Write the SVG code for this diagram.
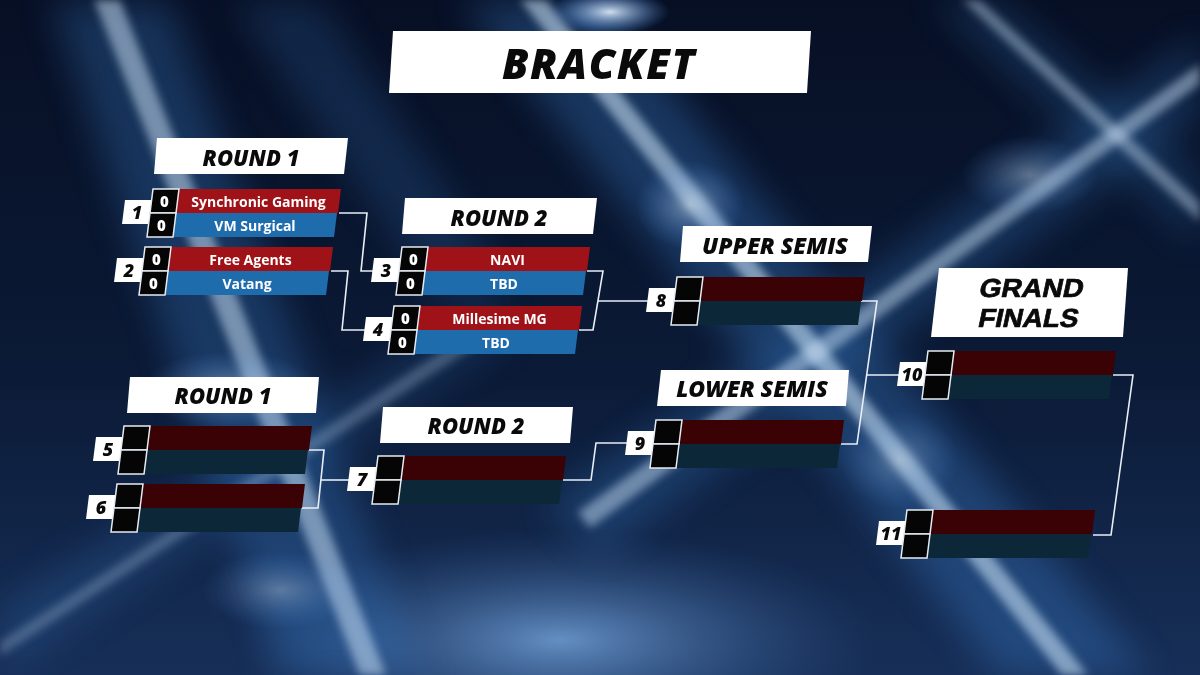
<svg xmlns="http://www.w3.org/2000/svg" xmlns:xlink="http://www.w3.org/1999/xlink" width="1200" height="675" viewBox="0 0 1200 675">
<style>
.hdr{fill:#ffffff}
.ht{font-family:"Open Sans","Liberation Sans",sans-serif;font-weight:800;font-style:italic;fill:#0a0a0a;text-anchor:middle}
.hg{font-family:"Liberation Sans",Arial,sans-serif;font-weight:700;font-size:26px;fill:#0a0a0a;text-anchor:middle;stroke:#0a0a0a;stroke-width:0.7}
.sc{fill:#050505;stroke:#e6ebf2;stroke-width:1.5}
.red{fill:#9e1218}.blue{fill:#1f6cad}.dred{fill:#3a0205}.dblue{fill:#0c2838}
.num{fill:#ffffff}
.nt{font-family:"Open Sans","Liberation Sans",sans-serif;font-weight:800;font-style:italic;font-size:18px;fill:#0a0a0a;text-anchor:middle}
.st{font-family:"Open Sans","Liberation Sans",sans-serif;font-weight:700;font-size:14px;fill:#ffffff;text-anchor:middle}
.sn{font-family:"Open Sans","Liberation Sans",sans-serif;font-weight:800;font-size:15px;fill:#ffffff;text-anchor:middle}
.conn{fill:none;stroke:#e8eef6;stroke-width:1.6}
</style>
<defs>
<linearGradient id="bg" x1="0" y1="0" x2="0" y2="1">
<stop offset="0" stop-color="#070f24"/>
<stop offset="0.55" stop-color="#0b1a36"/>
<stop offset="1" stop-color="#172f58"/>
</linearGradient>
<radialGradient id="glowB" cx="0.5" cy="0.5" r="0.5">
<stop offset="0" stop-color="#8fc4ff" stop-opacity="0.65"/>
<stop offset="1" stop-color="#3a6aa8" stop-opacity="0"/>
</radialGradient>
<radialGradient id="glowW" cx="0.5" cy="0.5" r="0.5">
<stop offset="0" stop-color="#e6f4ff" stop-opacity="0.9"/>
<stop offset="1" stop-color="#5aa0ff" stop-opacity="0"/>
</radialGradient>
<filter id="bw" x="-50%" y="-50%" width="200%" height="200%"><feGaussianBlur stdDeviation="18"/></filter>
<filter id="bn" x="-50%" y="-50%" width="200%" height="200%"><feGaussianBlur stdDeviation="4"/></filter>
<g id="cardI">
<polygon class="num" points="-28,11 -1,11 -4,35 -31,35"/>
<polygon class="dred" points="26,0 188,0 185,24 23,24"/>
<polygon class="dblue" points="23,24 184,24 181,48 20,48"/>
<polygon class="sc" points="0,0 26,0 23,24 -3,24"/>
<polygon class="sc" points="-3,24 23,24 20,48 -6,48"/>
</g>
<g id="cardA">
<polygon class="num" points="-28,11 -1,11 -4,35 -31,35"/>
<polygon class="red" points="26,0 188,0 185,24 23,24"/>
<polygon class="blue" points="23,24 184,24 181,48 20,48"/>
<polygon class="sc" points="0,0 26,0 23,24 -3,24"/>
<polygon class="sc" points="-3,24 23,24 20,48 -6,48"/>
</g>
</defs>

<g id="background">
<rect width="1200" height="675" fill="url(#bg)"/>
<ellipse cx="560" cy="640" rx="320" ry="110" fill="url(#glowB)"/>
<g filter="url(#bw)" opacity="0.6">
<polygon points="50,0 170,0 420,675 280,675" fill="#3f8ee0" opacity="0.45"/>
<polygon points="460,0 600,0 1150,675 1000,675" fill="#3f8ee0" opacity="0.5"/>
<polygon points="1200,35 1200,115 600,555 545,505" fill="#3f8ee0" opacity="0.4"/>
<polygon points="930,0 1000,0 1200,175 1200,245" fill="#3f8ee0" opacity="0.35"/>
<polygon points="0,605 0,675 515,335 485,305" fill="#3f8ee0" opacity="0.3"/>
<polygon points="230,0 320,0 510,290 440,300" fill="#3f8ee0" opacity="0.3"/>
</g>
<g filter="url(#bn)">
<polygon points="94,0 120,0 386,675 360,675" fill="#d6ecff" opacity="0.5"/>
<polygon points="520,0 546,0 1088,675 1062,675" fill="#d6ecff" opacity="0.55"/>
<polygon points="1200,64 1200,84 590,528 578,512" fill="#d6ecff" opacity="0.45"/>
<polygon points="962,0 980,0 1200,202 1200,222" fill="#d6ecff" opacity="0.4"/>
<polygon points="0,642 0,656 500,330 491,319" fill="#d6ecff" opacity="0.25"/>
</g>
<ellipse cx="610" cy="12" rx="60" ry="22" fill="url(#glowW)"/>
<ellipse cx="690" cy="205" rx="55" ry="45" fill="url(#glowW)" opacity="0.5"/>
<ellipse cx="230" cy="390" rx="90" ry="40" fill="url(#glowW)" opacity="0.45"/>
<ellipse cx="900" cy="460" rx="60" ry="50" fill="url(#glowW)" opacity="0.35"/>
<ellipse cx="1030" cy="175" rx="70" ry="40" fill="url(#glowW)" opacity="0.4"/>
<ellipse cx="280" cy="590" rx="80" ry="40" fill="url(#glowW)" opacity="0.35"/>
</g>

<g id="title">
<polygon class="hdr" points="393,31 811,31 807,93 389,93"/>
<text class="ht" x="599" y="79" font-size="42" letter-spacing="1.5">BRACKET</text>
</g>

<g id="hdr-round1-upper">
<polygon class="hdr" points="157,138 348,138 344,174 154,174"/>
<text class="ht" x="251" y="166" font-size="22">ROUND 1</text>
</g>
<g id="hdr-round2-upper">
<polygon class="hdr" points="405,198 597,198 593,234 402,234"/>
<text class="ht" x="499" y="226" font-size="22">ROUND 2</text>
</g>
<g id="hdr-upper-semis">
<polygon class="hdr" points="683,226 872,226 868,262 680,262"/>
<text class="ht" x="775" y="254" font-size="23">UPPER SEMIS</text>
</g>
<g id="hdr-grand-finals">
<polygon class="hdr" points="939,268 1128,268 1123,337 931,337"/>
<text class="hg" transform="translate(1030,297) skewX(-12)" x="0" y="0" textLength="104" lengthAdjust="spacingAndGlyphs">GRAND</text>
<text class="hg" transform="translate(1027,327) skewX(-12)" x="0" y="0" textLength="100" lengthAdjust="spacingAndGlyphs">FINALS</text>
</g>
<g id="hdr-round1-lower">
<polygon class="hdr" points="130,377 319,377 316,413 127,413"/>
<text class="ht" x="223" y="404" font-size="22">ROUND 1</text>
</g>
<g id="hdr-round2-lower">
<polygon class="hdr" points="383,407 573,407 570,443 380,443"/>
<text class="ht" x="476" y="434" font-size="22">ROUND 2</text>
</g>
<g id="hdr-lower-semis">
<polygon class="hdr" points="661,370 849,370 846,406 657,406"/>
<text class="ht" x="752" y="397" font-size="23">LOWER SEMIS</text>
</g>

<g id="connectors">
<polyline class="conn" points="339,213 367,213 361,271 373,271"/>
<polyline class="conn" points="331,271 348,271 342,330 366,330"/>
<polyline class="conn" points="587,271 603,271 593,330 579,330"/>
<polyline class="conn" points="598,301 649,301"/>
<polyline class="conn" points="309,450 324,450 318,508 302,508"/>
<polyline class="conn" points="321,480 349,480"/>
<polyline class="conn" points="563,480 591,480 596,443 627,443"/>
<polyline class="conn" points="860,301 877,301 857,444 841,444"/>
<polyline class="conn" points="866,375 899,375"/>
<polyline class="conn" points="1113,375 1133,375 1111,535 1093,535"/>
</g>

<g id="match1" transform="translate(153,189)">
<use xlink:href="#cardA"/>
<text class="nt" x="-16" y="30">1</text>
<text class="sn" x="11.5" y="18">0</text>
<text class="sn" x="8.5" y="42">0</text>
<text class="st" x="105.5" y="17.5">Synchronic Gaming</text>
<text class="st" x="102" y="41.5">VM Surgical</text>
</g>
<g id="match2" transform="translate(145,247)">
<use xlink:href="#cardA"/>
<text class="nt" x="-16" y="30">2</text>
<text class="sn" x="11.5" y="18">0</text>
<text class="sn" x="8.5" y="42">0</text>
<text class="st" x="105.5" y="17.5">Free Agents</text>
<text class="st" x="102" y="41.5">Vatang</text>
</g>
<g id="match3" transform="translate(402,247)">
<use xlink:href="#cardA"/>
<text class="nt" x="-16" y="30">3</text>
<text class="sn" x="11.5" y="18">0</text>
<text class="sn" x="8.5" y="42">0</text>
<text class="st" x="105.5" y="17.5">NAVI</text>
<text class="st" x="102" y="41.5">TBD</text>
</g>
<g id="match4" transform="translate(394,306)">
<use xlink:href="#cardA"/>
<text class="nt" x="-16" y="30">4</text>
<text class="sn" x="11.5" y="18">0</text>
<text class="sn" x="8.5" y="42">0</text>
<text class="st" x="105.5" y="17.5">Millesime MG</text>
<text class="st" x="102" y="41.5">TBD</text>
</g>
<g id="match5" transform="translate(124,426)">
<use xlink:href="#cardI"/>
<text class="nt" x="-16" y="30">5</text>
</g>
<g id="match6" transform="translate(117,484)">
<use xlink:href="#cardI"/>
<text class="nt" x="-16" y="30">6</text>
</g>
<g id="match7" transform="translate(378,456)">
<use xlink:href="#cardI"/>
<text class="nt" x="-16" y="30">7</text>
</g>
<g id="match8" transform="translate(677,277)">
<use xlink:href="#cardI"/>
<text class="nt" x="-16" y="30">8</text>
</g>
<g id="match9" transform="translate(656,420)">
<use xlink:href="#cardI"/>
<text class="nt" x="-16" y="30">9</text>
</g>
<g id="match10" transform="translate(928,351)">
<use xlink:href="#cardI"/>
<text class="nt" x="-16" y="30" font-size="17">10</text>
</g>
<g id="match11" transform="translate(907,510)">
<use xlink:href="#cardI"/>
<text class="nt" x="-16" y="30" font-size="17">11</text>
</g>
</svg>
